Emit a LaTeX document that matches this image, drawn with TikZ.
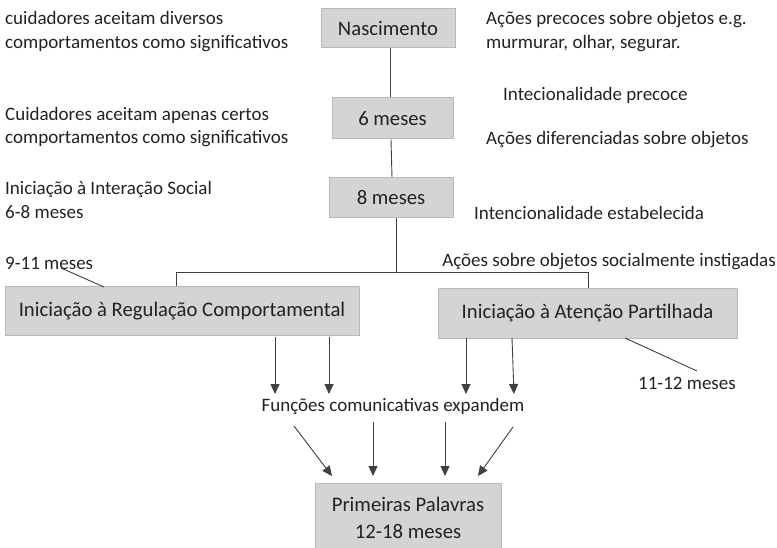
\documentclass[tikz,border=0pt]{standalone}
\usepackage{fontspec}
\setmainfont{Carlito}
\usetikzlibrary{arrows.meta}
\definecolor{boxfill}{HTML}{D4D4D4}
\definecolor{boxline}{HTML}{B8B8B8}
\definecolor{ink}{HTML}{222222}
\definecolor{wire}{HTML}{404040}
\begin{document}
\begin{tikzpicture}[x=1pt,y=-1pt,
  every node/.style={font=\fontsize{19}{23.5}\selectfont, text=ink},
  stage/.style={draw=boxline, fill=boxfill, line width=1pt, inner sep=0pt, align=center, font=\fontsize{20.7}{27}\selectfont},
  note/.style={anchor=west, align=left, inner sep=0pt},
  wireline/.style={draw=wire, line width=0.9pt},
  arrowline/.style={draw=wire, line width=0.9pt, -{Triangle[length=10pt,width=9pt]}}]
\useasboundingbox (0,0) rectangle (777,548);
% boxes
\node[stage, minimum width=134, minimum height=39] (nasc) at (388,28.5) {Nascimento};
\node[stage, minimum width=121, minimum height=41] (m6) at (392.5,118.5) {6 meses};
\node[stage, minimum width=124, minimum height=40] (m8) at (391,198) {8 meses};
\node[stage, minimum width=354, minimum height=48] (reg) at (182,311) {Iniciação à Regulação Comportamental};
\node[stage, minimum width=299, minimum height=49] (aten) at (587.5,313.5) {Iniciação à Atenção Partilhada};
\node[stage, minimum width=186, minimum height=70, text depth=0pt] (pal) at (408,518) {Primeiras Palavras\\12-18 meses};
% left notes
\node[note] (n1) at (5,31.5) {cuidadores aceitam diversos\\comportamentos como significativos};
\node[note] (n2) at (5,127) {Cuidadores aceitam apenas certos\\comportamentos como significativos};
\node[note] (n3) at (5,200) {Iniciação à Interação Social\\6-8 meses};
\node[note] (n4) at (5,263) {9-11 meses};
% right notes
\node[note] (r1) at (486,31.5) {Ações precoces sobre objetos e.g.\\murmurar, olhar, segurar.};
\node[note] (r2) at (503,95) {Intecionalidade precoce};
\node[note] (r3) at (486,140) {Ações diferenciadas sobre objetos};
\node[note] (r4) at (474,213) {Intencionalidade estabelecida};
\node[note, anchor=east] (r5) at (776,262) {Ações sobre objetos socialmente instigadas};
\node[note] (r6) at (638,383) {11-12 meses};
% middle text
\node[inner sep=0pt] (func) at (393,406) {Funções comunicativas expandem};
% coordinates
\coordinate (j) at (396,272);
\coordinate (jl) at (176,272);
\coordinate (jr) at (588,272);
\coordinate (t9a) at (61,268);
\coordinate (t9b) at (104,287);
\coordinate (t11a) at (625,338);
\coordinate (t11b) at (697,371);
\coordinate (a1s) at (275,337); \coordinate (a1e) at (275,394);
\coordinate (a2s) at (329,337); \coordinate (a2e) at (329,394);
\coordinate (a3s) at (466,338); \coordinate (a3e) at (466,394);
\coordinate (a4s) at (512,338); \coordinate (a4e) at (514,394);
\coordinate (b1s) at (294,426); \coordinate (b1e) at (332,476);
\coordinate (b2s) at (373,422); \coordinate (b2e) at (373,476);
\coordinate (b3s) at (445,422); \coordinate (b3e) at (445,476);
\coordinate (b4s) at (513,427); \coordinate (b4e) at (478,476);
% connectors
\draw[wireline] (nasc.south -| 390,0) -- (m6.north -| 390,0);
\draw[wireline] (m6.south -| 391,0) -- (m8.north -| 392,0);
\draw[wireline] (m8.south -| j) -- (j);
\draw[wireline] (reg.north -| jl) -- (jl) -- (jr) -- (aten.north -| jr);
\draw[wireline] (t9a) -- (t9b);
\draw[wireline] (t11a) -- (t11b);
\draw[arrowline] (a1s) -- (a1e);
\draw[arrowline] (a2s) -- (a2e);
\draw[arrowline] (a3s) -- (a3e);
\draw[arrowline] (a4s) -- (a4e);
\draw[arrowline] (b1s) -- (b1e);
\draw[arrowline] (b2s) -- (b2e);
\draw[arrowline] (b3s) -- (b3e);
\draw[arrowline] (b4s) -- (b4e);
\end{tikzpicture}
\end{document}
